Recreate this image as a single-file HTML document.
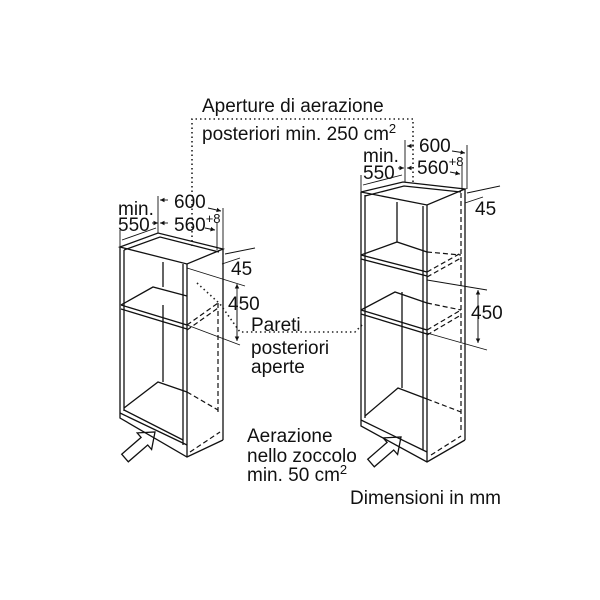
<!DOCTYPE html>
<html><head><meta charset="utf-8"><style>
html,body{margin:0;padding:0;background:#fff;}
svg{display:block;}
text{font-family:"Liberation Sans",Arial,sans-serif;font-size:19px;fill:#111;}
.s{stroke:#111;stroke-width:1.3;fill:none;}
.d{stroke:#111;stroke-width:1.2;fill:none;stroke-dasharray:5 3;}
.o{stroke:#222;stroke-width:1.6;fill:none;stroke-dasharray:1.5 3;}
.t{stroke:#111;stroke-width:0.9;fill:none;}
</style></head><body>
<svg width="600" height="600" viewBox="0 0 600 600" xmlns="http://www.w3.org/2000/svg">
<defs><marker id="a" markerWidth="6" markerHeight="6" refX="5" refY="3" orient="auto"><path d="M0,0.5 L5,3 L0,5.5z" fill="#111"/></marker></defs>
<polyline class="o" points="192,246 192,119 413,119 413,185"/>
<polyline class="o" points="197,283 220,304 240,332 355,332 363,324"/>
<text x="202" y="112">Aperture di aerazione</text>
<text x="202" y="140">posteriori min. 250 cm<tspan font-size="13" dy="-7">2</tspan></text>

<!-- LEFT cabinet -->
<polygon class="s" points="120,247 158,233 223,249 187,264"/>
<polyline class="s" points="124,250 160,237 219,252"/>
<line class="s" x1="120" y1="247" x2="120" y2="413"/>
<line class="s" x1="124" y1="250" x2="124" y2="411"/>
<line class="s" x1="187" y1="264" x2="187" y2="457"/>
<line class="s" x1="183" y1="264" x2="183" y2="445"/>
<line class="s" x1="223" y1="249" x2="223" y2="440"/>
<line class="s" x1="163" y1="262" x2="163" y2="287"/>
<line class="s" x1="163" y1="305" x2="163" y2="382"/>
<line class="s" x1="124" y1="410" x2="183" y2="440"/>
<line class="s" x1="120" y1="413" x2="187" y2="445"/>
<polyline class="s" points="120,413 120,418 187,457 223,440"/>
<polyline class="s" points="121,305 153,287 187,296"/>
<line class="s" x1="121" y1="305" x2="187" y2="325"/>
<line class="s" x1="121" y1="309" x2="187" y2="329"/>
<line class="d" x1="187" y1="325" x2="218" y2="303"/>
<line class="d" x1="187" y1="330" x2="218" y2="308"/>
<line class="d" x1="218" y1="303" x2="218" y2="412"/>
<polyline class="s" points="124,408 158,382 187,392"/>
<line class="d" x1="187" y1="392" x2="218" y2="410"/>
<line class="d" x1="190" y1="452" x2="220" y2="432"/>
<line class="t" x1="120" y1="230" x2="120" y2="247"/>
<line class="t" x1="158" y1="196" x2="158" y2="233"/>
<line class="t" x1="223" y1="208" x2="223" y2="249"/>
<line class="t" x1="217" y1="222" x2="217" y2="250"/>
<line class="t" x1="152" y1="223" x2="158" y2="223" marker-end="url(#a)"/>
<line class="t" x1="168" y1="200" x2="160" y2="200" marker-end="url(#a)"/>
<line class="t" x1="208" y1="208" x2="221" y2="211" marker-end="url(#a)"/>
<line class="t" x1="168" y1="223" x2="160" y2="223" marker-end="url(#a)"/>
<line class="t" x1="205" y1="228" x2="215" y2="230" marker-end="url(#a)"/>
<line class="t" x1="122" y1="240" x2="156" y2="228"/>
<line class="t" x1="225" y1="254" x2="255" y2="248"/>
<line class="t" x1="222" y1="264" x2="240" y2="258"/>
<line class="t" x1="187" y1="268" x2="245" y2="286"/>
<line class="t" x1="187" y1="325" x2="240" y2="345"/>
<line class="t" x1="237" y1="340" x2="237" y2="284" marker-end="url(#a)"/>
<line class="t" x1="237" y1="300" x2="237" y2="341" marker-end="url(#a)"/>
<text x="118" y="215">min.</text>
<text x="118" y="231">550</text>
<text x="174" y="208">600</text>
<text x="174" y="231">560<tspan font-size="13" dy="-8">+8</tspan></text>
<text x="231" y="275">45</text>
<text x="228" y="310">450</text>
<text x="251" y="331">Pareti</text>
<text x="251" y="354">posteriori</text>
<text x="251" y="373">aperte</text>
<polygon class="s" fill="#fff" points="121.7,454.2 141.1,437.4 137.2,432.9 155,432 151.6,449.5 147.7,445 128.3,461.8"/>

<!-- RIGHT cabinet -->
<polygon class="s" points="361,192 403,182 465,189 427,205"/>
<polyline class="s" points="365,196 404,186 461,192"/>
<line class="s" x1="361" y1="192" x2="361" y2="420"/>
<line class="s" x1="365" y1="195" x2="365" y2="418"/>
<line class="s" x1="427" y1="205" x2="427" y2="462"/>
<line class="s" x1="423" y1="206" x2="423" y2="450"/>
<line class="s" x1="465" y1="189" x2="465" y2="440"/>
<line class="s" x1="397" y1="202" x2="397" y2="242"/>
<line class="s" x1="402" y1="292" x2="402" y2="388"/>
<line class="s" x1="361" y1="420" x2="427" y2="452"/>
<polyline class="s" points="361,420 361,426 427,462 465,440"/>
<polyline class="s" points="361,255 397,242 427,252"/>
<line class="s" x1="361" y1="255" x2="427" y2="272"/>
<line class="s" x1="361" y1="259" x2="427" y2="276"/>
<line class="d" x1="427" y1="272" x2="461" y2="253"/>
<line class="d" x1="427" y1="277" x2="461" y2="258"/>
<line class="d" x1="427" y1="252" x2="461" y2="255"/>
<polyline class="s" points="361,310 395,292 427,303"/>
<line class="s" x1="361" y1="310" x2="427" y2="330"/>
<line class="s" x1="361" y1="314" x2="427" y2="334"/>
<line class="d" x1="427" y1="330" x2="461" y2="310"/>
<line class="d" x1="427" y1="335" x2="461" y2="315"/>
<line class="d" x1="427" y1="303" x2="461" y2="310"/>
<line class="d" x1="461" y1="193" x2="461" y2="430"/>
<polyline class="s" points="365,416 398,388 427,399"/>
<line class="d" x1="427" y1="399" x2="461" y2="412"/>
<line class="d" x1="431" y1="455" x2="461" y2="436"/>
<line class="t" x1="361" y1="175" x2="361" y2="192"/>
<line class="t" x1="405" y1="140" x2="405" y2="182"/>
<line class="t" x1="467" y1="145" x2="467" y2="189"/>
<line class="t" x1="462" y1="165" x2="462" y2="190"/>
<line class="t" x1="398" y1="168" x2="404" y2="168" marker-end="url(#a)"/>
<line class="t" x1="414" y1="146" x2="407" y2="146" marker-end="url(#a)"/>
<line class="t" x1="452" y1="151" x2="465" y2="153" marker-end="url(#a)"/>
<line class="t" x1="414" y1="168" x2="407" y2="168" marker-end="url(#a)"/>
<line class="t" x1="450" y1="172" x2="460" y2="174" marker-end="url(#a)"/>
<line class="t" x1="363" y1="185" x2="402" y2="175"/>
<line class="t" x1="467" y1="193" x2="500" y2="186"/>
<line class="t" x1="465" y1="203" x2="483" y2="197"/>
<line class="t" x1="427" y1="280" x2="487" y2="290"/>
<line class="t" x1="427" y1="333" x2="487" y2="350"/>
<line class="t" x1="478" y1="340" x2="478" y2="290" marker-end="url(#a)"/>
<line class="t" x1="478" y1="310" x2="478" y2="343" marker-end="url(#a)"/>
<text x="419" y="152">600</text>
<text x="363" y="162">min.</text>
<text x="363" y="179">550</text>
<text x="417" y="174">560<tspan font-size="13" dy="-8">+8</tspan></text>
<text x="475" y="215">45</text>
<text x="471" y="319">450</text>
<polygon class="s" fill="#fff" points="367.7,459.2 387.1,442.4 383.2,437.9 401,437 397.6,454.5 393.7,450 374.3,466.8"/>

<text x="247" y="442">Aerazione</text>
<text x="247" y="462">nello zoccolo</text>
<text x="247" y="481">min. 50 cm<tspan font-size="13" dy="-7">2</tspan></text>
<text x="350" y="504">Dimensioni in mm</text>
</svg>
</body></html>
